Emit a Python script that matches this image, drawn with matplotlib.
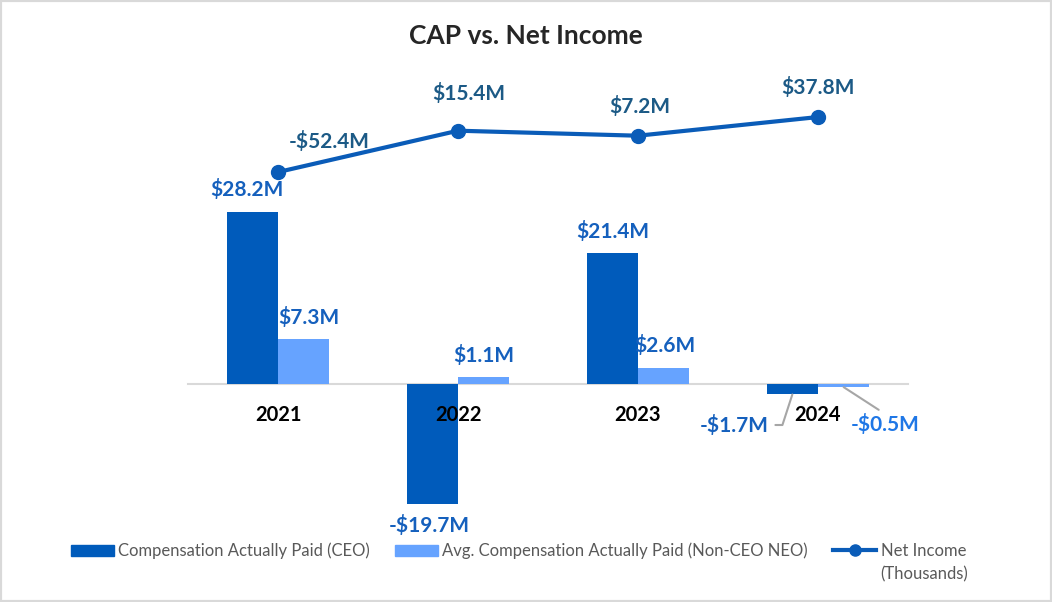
import matplotlib
matplotlib.use("Agg")
import matplotlib.pyplot as plt
from matplotlib.patches import Rectangle
from matplotlib.lines import Line2D
from matplotlib.patches import Patch
import numpy as np

years = ["2021", "2022", "2023", "2024"]
cap_ceo = [28.2, -19.7, 21.4, -1.7]
cap_neo = [7.3, 1.1, 2.6, -0.5]
net_income = [-52.4, 15.4, 7.2, 37.8]

series_names = ["Compensation Actually Paid (CEO)",
                "Avg. Compensation Actually Paid (Non-CEO NEO)",
                "Net Income"]
line_unit = "(Thousands)"

CEO_COLOR = "#005BBB"
NEO_COLOR = "#66A3FF"
LINE_COLOR = "#0A5CB8"
LINE_LABEL = "#1C5A86"
BAR_LABEL = "#1560BD"

plt.rcParams["font.family"] = ["Lato", "DejaVu Sans"]


def money(v):
    return f"-${abs(v):.1f}M" if v < 0 else f"${v:.1f}M"


fig = plt.figure(figsize=(10.52, 6.02), dpi=100)
fig.patches.append(Rectangle((0, 0), 1, 1, transform=fig.transFigure,
                             fill=False, edgecolor="#D9D9D9", linewidth=3))

ax = fig.add_axes([188 / 1052, 72 / 602, 720 / 1052, 450 / 602])
ax2 = ax.twinx()

x = np.arange(len(years))
w = 0.285
ax.bar(x - w / 2, cap_ceo, w, color=CEO_COLOR, zorder=2)
ax.bar(x + w / 2, cap_neo, w, color=NEO_COLOR, zorder=2)

ax.set_xlim(-0.5, 3.5)
ax.set_ylim(-23.9, 49.8)
ax2.set_ylim(-639, 98.5)

ax2.plot(x, net_income, color=LINE_COLOR, lw=3, marker="o", ms=10, zorder=3)

for a in (ax, ax2):
    for s in ("top", "left", "right"):
        a.spines[s].set_visible(False)
    a.set_yticks([])
ax2.spines["bottom"].set_visible(False)
ax.set_axisbelow(False)
ax.spines["bottom"].set_position(("data", 0))
ax.spines["bottom"].set_color("#D9D9D9")
ax.spines["bottom"].set_linewidth(1.5)
ax.spines["bottom"].set_zorder(1)
ax.set_xticks(x, years)
ax.tick_params(axis="x", length=0, pad=15, labelsize=14.5)
for t in ax.get_xticklabels():
    t.set_fontweight("bold")
    t.set_color("black")

# bar labels
ceo_off = [(-4, 16), (-2, -15), (0, 16), None]
for i, v in enumerate(cap_ceo):
    xi = x[i] - w / 2
    if ceo_off[i] is None:
        ax.annotate(money(v), (xi, v), xytext=(-42, -22), textcoords="offset points",
                    ha="center", va="center", fontsize=15, fontweight="bold", color=BAR_LABEL,
                    arrowprops=dict(arrowstyle="-", color="#A6A6A6", lw=1.5,
                                    connectionstyle="angle,angleA=0,angleB=72",
                                    relpos=(1, 0.5), shrinkA=3, shrinkB=0))
    else:
        ax.annotate(money(v), (xi, v), xytext=ceo_off[i], textcoords="offset points",
                    ha="center", va="center", fontsize=15, fontweight="bold", color=BAR_LABEL)

neo_off = [(4, 15.5), (0, 15.5), (1, 16), None]
for i, v in enumerate(cap_neo):
    xi = x[i] + w / 2
    if neo_off[i] is None:
        ax.annotate(money(v), (xi, v), xytext=(30, -27), textcoords="offset points",
                    ha="center", va="center", fontsize=15, fontweight="bold", color="#1F77E6",
                    arrowprops=dict(arrowstyle="-", color="#A6A6A6", lw=1.5,
                                    relpos=(0.5, 1), shrinkA=2, shrinkB=0))
    else:
        ax.annotate(money(v), (xi, v), xytext=neo_off[i], textcoords="offset points",
                    ha="center", va="center", fontsize=15, fontweight="bold", color=BAR_LABEL)

# line labels
line_off = [(37, 22), (8, 27), (1, 21), (0, 21)]
for i, v in enumerate(net_income):
    ax2.annotate(money(v), (x[i], v), xytext=line_off[i], textcoords="offset points",
                 ha="center", va="center", fontsize=15, fontweight="bold", color=LINE_LABEL)

fig.text(0.5, 1 - 36 / 602, "CAP vs. Net Income", ha="center", va="center",
         fontsize=19, fontweight="bold", color="#262626")

handles = [Patch(color=CEO_COLOR), Patch(color=NEO_COLOR),
           Line2D([], [], color=LINE_COLOR, lw=3, marker="o", ms=8)]
leg = fig.legend(handles, series_names, loc="center left", bbox_to_anchor=(64 / 1052, 1 - 551 / 602),
                 ncol=3, frameon=False, fontsize=12, labelcolor="#595959",
                 handlelength=2.6, handletextpad=0.25, columnspacing=1.5, borderaxespad=0)

# second line of the net income legend entry, under its first line
fig.canvas.draw()
bb = leg.get_texts()[2].get_window_extent().transformed(fig.transFigure.inverted())
fig.text(bb.x0, bb.y0 - 23 / 602, line_unit, ha="left", va="bottom",
         fontsize=12, color="#595959")

fig.savefig("out.png", dpi=100)
